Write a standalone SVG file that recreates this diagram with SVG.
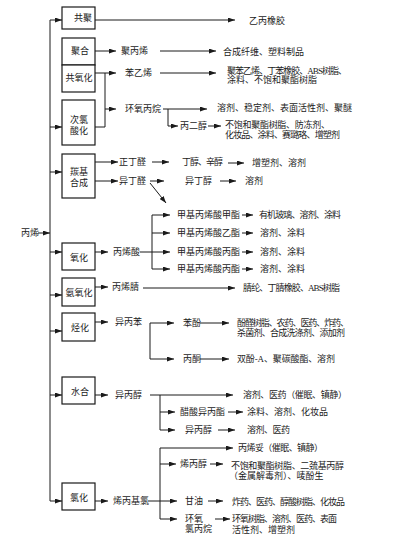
<svg xmlns="http://www.w3.org/2000/svg" width="404" height="545" viewBox="0 0 404 545">
<style>
text{font-family:"Liberation Serif","Noto Sans CJK SC",serif;font-size:9px;fill:#1a1a1a;dominant-baseline:central}
.c{text-anchor:middle}
.box{fill:#fff;stroke:#1a1a1a;stroke-width:1.2}
.ln{fill:none;stroke:#1a1a1a;stroke-width:1}
.ar{fill:none;stroke:#1a1a1a;stroke-width:1;marker-end:url(#ah)}
</style>
<defs>
<marker id="ah" markerUnits="userSpaceOnUse" markerWidth="7" markerHeight="5" refX="7" refY="2.5" orient="auto">
<path d="M0,0 L7,2.5 L0,5 z" fill="#1a1a1a"/>
</marker>
</defs>
<rect width="404" height="545" fill="#fff"/>

<g id="connectors">
<!-- trunk -->
<path class="ln" d="M50,20 V501"/>
<path class="ar" d="M38,233 H50"/>
<path class="ar" d="M50,20 H62"/>
<path class="ar" d="M50,127 H62"/>
<path class="ar" d="M50,172 H62"/>
<path class="ar" d="M50,252 H62"/>
<path class="ar" d="M50,295 H62"/>
<path class="ar" d="M50,331 H62"/>
<path class="ar" d="M50,395 H62"/>
<path class="ar" d="M50,501 H62"/>
<!-- 共聚 -->
<path class="ar" d="M95,20 H235"/>
<!-- 聚合 -->
<path class="ar" d="M95,51 H116"/>
<path class="ar" d="M160,51 H216"/>
<!-- 共氧化 / 次氯酸化 -->
<path class="ar" d="M95,73 H116"/>
<path class="ln" d="M105,73 V127 H95"/>
<path class="ar" d="M105,109 H116"/>
<path class="ar" d="M160,73 H216"/>
<path class="ar" d="M163,109 H207"/>
<path class="ar" d="M168,109 V126 H178"/>
<path class="ar" d="M208,126 H221"/>
<!-- 羰基合成 -->
<path class="ar" d="M95,162 H118"/>
<path class="ar" d="M95,181 H118"/>
<path class="ar" d="M152,162 H169"/>
<path class="ar" d="M228,163 H244"/>
<path class="ar" d="M150,181 H164"/>
<path class="ar" d="M150,183 L166,203"/>
<path class="ar" d="M220,181 H236"/>
<!-- 氧化 -->
<path class="ar" d="M95,252 H108"/>
<path class="ar" d="M140,252 H170"/>
<path class="ln" d="M152,215 V269"/>
<path class="ar" d="M152,215 H170"/>
<path class="ar" d="M152,233 H170"/>
<path class="ar" d="M152,269 H170"/>
<path class="ar" d="M242,215 H253"/>
<path class="ar" d="M242,233 H253"/>
<path class="ar" d="M242,252 H253"/>
<path class="ar" d="M242,269 H253"/>
<!-- 氨氧化 -->
<path class="ar" d="M95,287 H108"/>
<path class="ar" d="M143,288 H235"/>
<!-- 烃化 -->
<path class="ar" d="M95,322 H108"/>
<path class="ar" d="M150,323 H174"/>
<path class="ar" d="M150,323 V359 H174"/>
<path class="ar" d="M200,323 H229"/>
<path class="ar" d="M200,359 H229"/>
<!-- 水合 -->
<path class="ar" d="M95,395 H108"/>
<path class="ar" d="M150,395 H233"/>
<path class="ln" d="M160,395 V430"/>
<path class="ar" d="M160,412 H175"/>
<path class="ar" d="M160,430 H175"/>
<path class="ar" d="M228,412 H243"/>
<path class="ar" d="M218,430 H235"/>
<!-- 氯化 -->
<path class="ar" d="M95,501 H108"/>
<path class="ar" d="M148,501 H177"/>
<path class="ln" d="M160,448 V519"/>
<path class="ar" d="M160,448 H233"/>
<path class="ar" d="M160,464 H176"/>
<path class="ar" d="M160,519 H177"/>
<path class="ar" d="M210,464 H223"/>
<path class="ar" d="M208,501 H223"/>
<path class="ar" d="M215,519 H230"/>
</g>

<g id="n-propylene"><text x="21" y="233">丙烯</text></g>

<g id="n-gongju"><rect class="box" x="62" y="7" width="33" height="22"/><text class="c" x="83" y="18">共聚</text></g>
<g id="n-juhe"><rect class="box" x="62" y="38" width="33" height="27"/><text class="c" x="80" y="51">聚合</text></g>
<g id="n-gongyanghua"><rect class="box" x="62" y="65" width="33" height="27"/><text class="c" x="79" y="78">共氧化</text></g>
<g id="n-cilvsuanhua"><rect class="box" x="62" y="100" width="33" height="45"/><text class="c" x="79" y="120">次氯</text><text class="c" x="79" y="131">酸化</text></g>
<g id="n-tanji"><rect class="box" x="62" y="154" width="33" height="44"/><text class="c" x="79" y="172">羰基</text><text class="c" x="79" y="183">合成</text></g>
<g id="n-yanghua"><rect class="box" x="62" y="243" width="33" height="27"/><text class="c" x="79" y="258">氧化</text></g>
<g id="n-anyanghua"><rect class="box" x="62" y="278" width="33" height="28"/><text class="c" x="79" y="293">氨氧化</text></g>
<g id="n-tinghua"><rect class="box" x="62" y="313" width="33" height="28"/><text class="c" x="80" y="328">烃化</text></g>
<g id="n-shuihe"><rect class="box" x="62" y="377" width="33" height="27"/><text class="c" x="80" y="392">水合</text></g>
<g id="n-lvhua"><rect class="box" x="62" y="483" width="33" height="27"/><text class="c" x="79" y="498">氯化</text></g>

<g id="n-epr"><text x="249" y="21">乙丙橡胶</text></g>
<g id="n-pp"><text x="121" y="51">聚丙烯</text></g>
<g id="n-pp-use"><text x="223" y="52">合成纤维、塑料制品</text></g>
<g id="n-styrene"><text x="125" y="73">苯乙烯</text></g>
<g id="n-styrene-use"><text x="227" y="71" textLength="120" lengthAdjust="spacing">聚苯乙烯、丁苯橡胶、ABS树脂、</text><text x="227" y="80">涂料、不饱和聚酯树脂</text></g>
<g id="n-po"><text x="125" y="109">环氧丙烷</text></g>
<g id="n-po-use"><text x="217" y="108">溶剂、稳定剂、表面活性剂、聚醚</text></g>
<g id="n-pg"><text x="180" y="126">丙二醇</text></g>
<g id="n-pg-use"><text x="225" y="125" textLength="105" lengthAdjust="spacing">不饱和聚酯树脂、防冻剂、</text><text x="225" y="135" textLength="115" lengthAdjust="spacing">化妆品、涂料、赛璐珞、增塑剂</text></g>
<g id="n-nba"><text x="119" y="162">正丁醛</text></g>
<g id="n-butanol"><text x="182" y="162" textLength="41" lengthAdjust="spacing">丁醇、辛醇</text></g>
<g id="n-butanol-use"><text x="252" y="163">增塑剂、溶剂</text></g>
<g id="n-iba"><text x="119" y="181">异丁醛</text></g>
<g id="n-ibol"><text x="185" y="181">异丁醇</text></g>
<g id="n-ibol-use"><text x="245" y="181">溶剂</text></g>
<g id="n-acid"><text x="113" y="252">丙烯酸</text></g>
<g id="n-mma"><text x="177" y="215">甲基丙烯酸甲酯</text><text x="259" y="215" textLength="82" lengthAdjust="spacing">有机玻璃、溶剂、涂料</text></g>
<g id="n-ema"><text x="177" y="233">甲基丙烯酸乙酯</text><text x="260" y="233">溶剂、涂料</text></g>
<g id="n-pma1"><text x="177" y="252">甲基丙烯酸丙酯</text><text x="260" y="252">溶剂、涂料</text></g>
<g id="n-pma2"><text x="177" y="269">甲基丙烯酸丙酯</text><text x="260" y="269">溶剂、涂料</text></g>
<g id="n-an"><text x="112" y="287">丙烯腈</text></g>
<g id="n-an-use"><text x="243" y="288" textLength="97" lengthAdjust="spacing">腈纶、丁腈橡胶、ABS树脂</text></g>
<g id="n-cumene"><text x="115" y="322">异丙苯</text></g>
<g id="n-phenol"><text x="183" y="323">苯酚</text></g>
<g id="n-phenol-use"><text x="237" y="323" textLength="112" lengthAdjust="spacing">酚醛树脂、农药、医药、炸药、</text><text x="237" y="333" textLength="108" lengthAdjust="spacing">杀菌剂、合成洗涤剂、添加剂</text></g>
<g id="n-acetone"><text x="183" y="359">丙酮</text></g>
<g id="n-acetone-use"><text x="237" y="359" textLength="98" lengthAdjust="spacing">双酚-A、聚碳酸酯、溶剂</text></g>
<g id="n-ipa"><text x="115" y="395">异丙醇</text></g>
<g id="n-ipa-use"><text x="243" y="395" textLength="104" lengthAdjust="spacing">溶剂、医药（催眠、镇静）</text></g>
<g id="n-ipac"><text x="180" y="412">醋酸异丙酯</text><text x="247" y="412">涂料、溶剂、化妆品</text></g>
<g id="n-ipa2"><text x="185" y="430">异丙醇</text><text x="247" y="430" textLength="43" lengthAdjust="spacing">溶剂、医药</text></g>
<g id="n-allylcl"><text x="113" y="501">烯丙基氯</text></g>
<g id="n-allyl-amide"><text x="238" y="448" textLength="85" lengthAdjust="spacing">丙烯妥（催眠、镇静）</text></g>
<g id="n-allylol"><text x="180" y="464">烯丙醇</text><text x="231" y="466" textLength="113" lengthAdjust="spacing">不饱和聚酯树脂、二巯基丙醇</text><text x="229" y="476">（金属解毒剂）、唛酚生</text></g>
<g id="n-glycerol"><text x="185" y="501">甘油</text><text x="232" y="502" textLength="113" lengthAdjust="spacing">炸药、医药、醇酸树脂、化妆品</text></g>
<g id="n-ech"><text x="185" y="519">环氧</text><text x="185" y="529">氯丙烷</text><text x="232" y="519" textLength="105" lengthAdjust="spacing">环氧树脂、溶剂、医药、表面</text><text x="232" y="530">活性剂、增塑剂</text></g>
</svg>
